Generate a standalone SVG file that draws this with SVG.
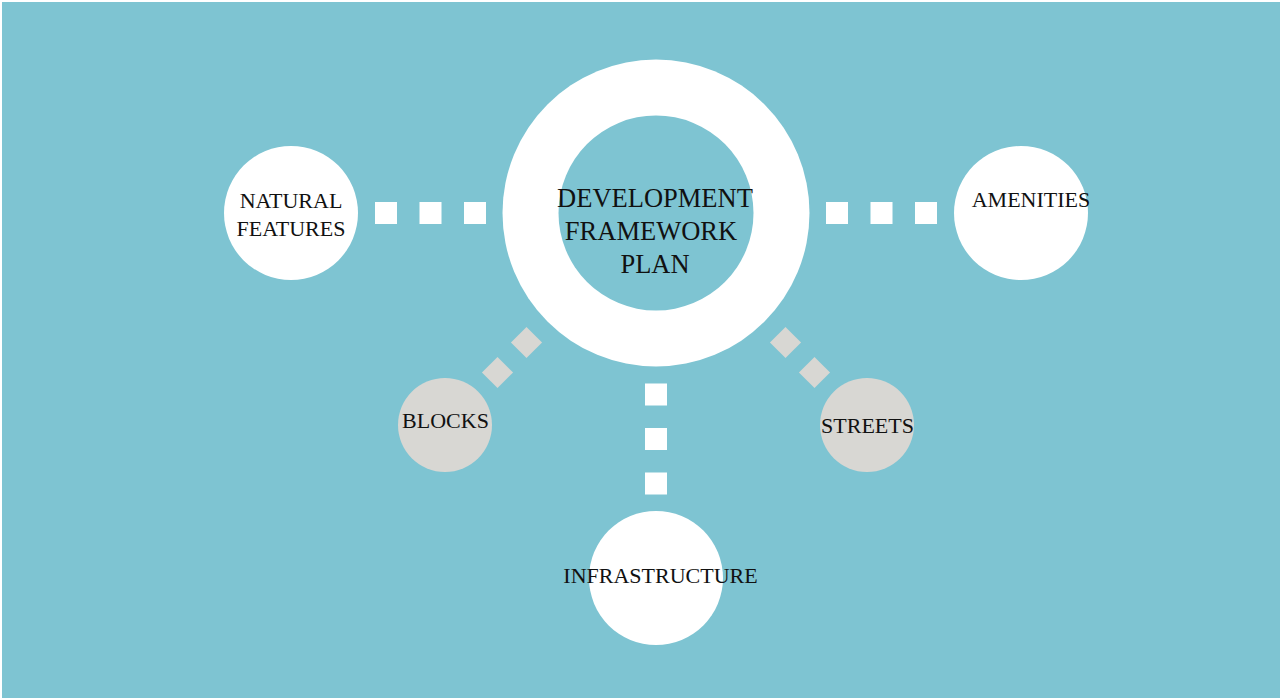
<svg xmlns="http://www.w3.org/2000/svg" width="1280" height="698" viewBox="0 0 1280 698">
  <style>
    .lbl { font-family: "Liberation Serif", "Times New Roman", serif; font-size: 22px; fill: #111111; text-anchor: middle; }
    .big { font-size: 26.5px; }
    .white { fill: #ffffff; }
    .grey { fill: #d8d7d3; }
  </style>
  <defs>
    <rect id="sq" x="-11" y="-11" width="22" height="22"/>
    <rect id="dm" x="-11" y="-11" width="22" height="22" transform="rotate(45)"/>
  </defs>

  <!-- backdrop -->
  <rect x="0" y="0" width="1280" height="698" fill="#ffffff"/>
  <rect x="2" y="2" width="1278" height="696" fill="#7ec4d2"/>

  <!-- dotted links -->
  <g id="connectors">
    <g class="white">
      <use href="#sq" x="386" y="213"/>
      <use href="#sq" x="430.5" y="213"/>
      <use href="#sq" x="475" y="213"/>
      <use href="#sq" x="837" y="213"/>
      <use href="#sq" x="881.5" y="213"/>
      <use href="#sq" x="926" y="213"/>
      <use href="#sq" x="656" y="394.5"/>
      <use href="#sq" x="656" y="439"/>
      <use href="#sq" x="656" y="483.5"/>
    </g>
    <g class="grey">
      <use href="#dm" x="526.5" y="342.5"/>
      <use href="#dm" x="497.5" y="372.5"/>
      <use href="#dm" x="785.5" y="342.5"/>
      <use href="#dm" x="814.5" y="372.5"/>
    </g>
  </g>

  <!-- central ring -->
  <g id="development-framework-plan">
    <circle cx="656" cy="213" r="153.5" class="white"/>
    <circle cx="656" cy="213" r="97.5" fill="#7ec4d2"/>
    <text class="lbl big" x="655" y="207">DEVELOPMENT</text>
    <text class="lbl big" x="651" y="240">FRAMEWORK</text>
    <text class="lbl big" x="655" y="273">PLAN</text>
  </g>

  <g id="natural-features">
    <circle cx="291" cy="213" r="67" class="white"/>
    <text class="lbl" x="291" y="208">NATURAL</text>
    <text class="lbl" x="291" y="236">FEATURES</text>
  </g>

  <g id="amenities">
    <circle cx="1021" cy="213" r="67" class="white"/>
    <text class="lbl" x="1031" y="207">AMENITIES</text>
  </g>

  <g id="infrastructure">
    <circle cx="656" cy="578" r="67" class="white"/>
    <text class="lbl" x="660.5" y="583">INFRASTRUCTURE</text>
  </g>

  <g id="blocks">
    <circle cx="445" cy="425" r="47" class="grey"/>
    <text class="lbl" x="445.5" y="428">BLOCKS</text>
  </g>

  <g id="streets">
    <circle cx="867" cy="425" r="47" class="grey"/>
    <text class="lbl" x="867.5" y="433">STREETS</text>
  </g>
</svg>
